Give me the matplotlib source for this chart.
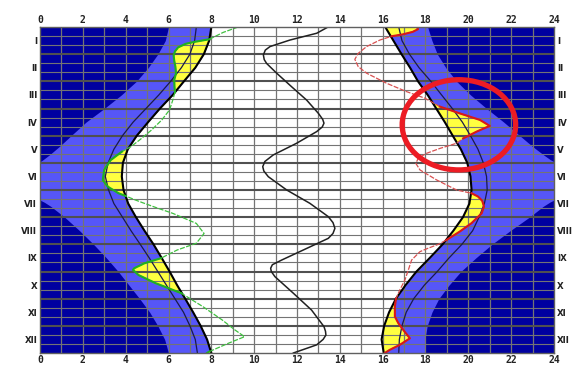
import numpy as np
import matplotlib
matplotlib.use('Agg')
import matplotlib.pyplot as plt
from matplotlib.patches import Ellipse
from matplotlib.font_manager import FontProperties

# ---------------- data ----------------
months = ['I', 'II', 'III', 'IV', 'V', 'VI', 'VII', 'VIII', 'IX', 'X', 'XI', 'XII']
hour_ticks = [0, 2, 4, 6, 8, 10, 12, 14, 16, 18, 20, 22, 24]

# month position (0 = 1 Jan, 12 = 31 Dec)
m_grid = [0, 0.5, 1, 1.5, 2, 2.5, 3, 3.5, 4, 4.5, 5, 5.5, 6, 6.5, 7, 7.5, 8, 8.5,
          9, 9.5, 10, 10.5, 11, 11.5, 12]
sunrise = [8.0, 7.9, 7.65, 7.25, 6.72, 6.2, 5.6, 5.05, 4.52, 4.1, 3.87, 3.82, 3.9,
           4.12, 4.48, 4.88, 5.3, 5.68, 6.05, 6.4, 6.78, 7.15, 7.5, 7.8, 8.0]
sunset = [16.12, 16.5, 16.88, 17.28, 17.65, 18.1, 18.5, 18.9, 19.27, 19.65, 19.95,
          20.1, 20.15, 20.05, 19.75, 19.3, 18.8, 18.2, 17.58, 17.07, 16.62, 16.3,
          16.07, 15.95, 16.05]
civil_am = [7.3, 7.22, 7.0, 6.6, 6.1, 5.55, 4.95, 4.35, 3.85, 3.45, 3.18, 3.05, 3.2,
            3.45, 3.85, 4.25, 4.68, 5.1, 5.5, 5.9, 6.3, 6.7, 7.0, 7.25, 7.35]
civil_pm = [16.75, 16.9, 17.25, 17.7, 18.25, 18.75, 19.25, 19.72, 20.1, 20.45, 20.7,
            20.85, 20.88, 20.75, 20.5, 20.2, 19.7, 19.1, 18.55, 17.95, 17.45, 17.1,
            16.9, 16.78, 16.75]

night_top_m = [0, 0.5, 1, 1.5, 2, 2.5, 3, 3.5, 4, 4.4, 4.7, 4.88, 4.96]
night_am_top = [6.0, 5.85, 5.5, 5.05, 4.5, 3.8, 3.0, 2.15, 1.45, 0.9, 0.45, 0.15, 0.0]
night_pm_top = [18.1, 18.3, 18.55, 18.95, 19.45, 20.1, 20.85, 21.65, 22.4, 23.0,
                23.5, 23.82, 24.0]
night_bot_m = [6.37, 6.45, 6.6, 7, 7.5, 8, 8.5, 9, 9.5, 10, 10.5, 11, 11.5, 12]
night_am_bot = [0.0, 0.2, 0.5, 1.15, 1.85, 2.5, 3.1, 3.65, 4.15, 4.65, 5.12, 5.5,
                5.82, 6.0]
night_pm_bot = [24.0, 23.8, 23.5, 22.85, 21.95, 21.1, 20.35, 19.65, 19.1, 18.62,
                18.3, 18.08, 17.97, 17.95]

green_m = [0.0, 0.2, 0.45, 0.55, 0.62, 0.75, 0.9, 1.05, 1.25, 1.45, 1.7, 1.95, 2.2,
           2.4, 2.69, 3.05, 3.42, 3.79, 4.16, 4.4, 4.59, 4.9, 5.26, 5.63, 5.88, 6.12,
           6.22, 6.37, 6.47, 6.67, 6.86, 7.23, 7.6, 7.96, 8.21, 8.51, 8.7, 8.88, 8.94,
           9.13, 9.43, 9.8, 10.29, 10.78, 11.15, 11.4, 11.64, 11.95, 12.0]
green_h = [9.25, 8.55, 7.91, 7.2, 6.8, 6.45, 6.3, 6.24, 6.27, 6.32, 6.35, 6.27, 6.28,
           6.3, 6.2, 6.05, 5.69, 5.21, 4.65, 4.25, 3.82, 3.3, 3.0, 2.93, 3.17, 3.67,
           4.0, 4.46, 4.8, 5.5, 6.2, 7.3, 7.66, 7.3, 6.4, 5.65, 4.87, 4.4, 4.34, 4.6,
           5.4, 6.6, 7.6, 8.5, 9.1, 9.55, 8.8, 7.9, 7.8]

red_m = [0.0, 0.08, 0.18, 0.27, 0.34, 0.48, 0.72, 0.97, 1.19, 1.46, 1.7, 2.07, 2.38,
         2.62, 2.72, 2.93, 3.18, 3.42, 3.64, 3.85, 4.1, 4.28, 4.47, 4.65, 4.83, 5.02,
         5.26, 5.63, 6.0, 6.12, 6.24, 6.4, 6.61, 6.86, 7.22, 7.53, 7.84, 8.0, 8.15,
         8.27, 8.58, 8.94, 9.31, 9.68, 10.0, 10.3, 10.66, 10.9, 11.15, 11.46, 11.7,
         11.88, 12.0]
red_h = [17.6, 17.65, 17.4, 16.95, 16.42, 15.87, 15.25, 14.86, 14.7, 14.86, 15.25,
         16.18, 17.12, 17.97, 18.2, 18.67, 19.6, 20.54, 21.0, 20.39, 19.76, 19.45,
         18.67, 18.05, 17.66, 17.55, 17.74, 18.52, 19.45, 20.15, 20.45, 20.65, 20.73,
         20.62, 20.15, 19.6, 18.98, 18.6, 18.1, 17.74, 17.35, 17.2, 17.04, 16.8,
         16.62, 16.57, 16.57, 16.73, 16.96, 17.27, 16.8, 16.34, 16.1]

mid_m = [0.0, 0.23, 0.48, 0.72, 0.85, 1.03, 1.2, 1.34, 1.7, 2.2, 2.69, 3.18, 3.4,
         3.54, 3.68, 3.85, 4.28, 4.71, 4.95, 5.14, 5.3, 5.51, 6.0, 6.49, 6.98, 7.2,
         7.41, 7.6, 7.78, 8.21, 8.58, 8.75, 8.88, 9.0, 9.19, 9.8, 10.42, 11.03,
         11.2, 11.34, 11.5, 11.7, 12.0]
mid_h = [13.45, 12.92, 11.67, 10.74, 10.52, 10.43, 10.47, 10.58, 11.05, 11.75, 12.45,
         13.0, 13.2, 13.26, 13.18, 12.92, 11.98, 10.89, 10.5, 10.4, 10.45, 10.66,
         11.52, 12.6, 13.46, 13.68, 13.77, 13.68, 13.46, 12.29, 11.28, 10.85, 10.77,
         10.8, 10.97, 11.83, 12.68, 13.26, 13.33, 13.35, 13.22, 12.92, 11.83]

# ---------------- style ----------------
NAVY = '#0000a0'
BLUE = '#5656f8'
YELLOW = '#ffff40'
GREEN = '#20b020'
RED = '#d81818'
GRID = '#747474'

fig = plt.figure(figsize=(5.73, 3.65), dpi=100)
ax = fig.add_axes([40 / 573, 12 / 365, 514 / 573, 326 / 365])
ax.set_facecolor('white')

mg = np.array(m_grid)
# twilight band
ax.fill_betweenx(mg, 0, sunrise, color=BLUE, lw=0, zorder=1)
ax.fill_betweenx(mg, sunset, 24, color=BLUE, lw=0, zorder=1)
# night
ax.fill_betweenx(night_top_m, 0, night_am_top, color=NAVY, lw=0, zorder=1.1)
ax.fill_betweenx(night_bot_m, 0, night_am_bot, color=NAVY, lw=0, zorder=1.1)
ax.fill_betweenx(night_top_m, night_pm_top, 24, color=NAVY, lw=0, zorder=1.1)
ax.fill_betweenx(night_bot_m, night_pm_bot, 24, color=NAVY, lw=0, zorder=1.1)

# yellow areas
gm = np.array(green_m); gh = np.array(green_h)
sr_g = np.interp(gm, mg, sunrise)
ax.fill_betweenx(gm, gh, sr_g, where=gh <= sr_g, interpolate=True,
                 color=YELLOW, lw=0, zorder=1.2)
rm = np.array(red_m); rh = np.array(red_h)
ss_r = np.interp(rm, mg, sunset)
ax.fill_betweenx(rm, ss_r, rh, where=rh >= ss_r, interpolate=True,
                 color=YELLOW, lw=0, zorder=1.2)

# grid
ax.vlines(range(1, 24), 0, 12, color=GRID, lw=0.9, zorder=2)
for k in range(1, 36):
    if k % 3 == 0:
        ax.hlines(k / 3, 0, 24, color='#505050', lw=1.5, zorder=2.1)
    else:
        ax.hlines(k / 3, 0, 24, color=GRID, lw=0.8, zorder=2)

# curves
ax.plot(civil_am, mg, color='#1a1a4a', lw=0.9, zorder=3)
ax.plot(civil_pm, mg, color='#1a1a4a', lw=0.9, zorder=3)
ax.plot(sunrise, mg, color='black', lw=1.5, zorder=3.2)
ax.plot(sunset, mg, color='black', lw=1.5, zorder=3.2)
ax.plot(mid_h, mid_m, color='#202020', lw=1.1, zorder=3)

ax.plot(gh, gm, color='#40c040', lw=0.9, ls=(0, (4, 1.2)), zorder=3.3)
ax.plot(np.ma.masked_where(gh > sr_g + 0.02, gh), gm, color=GREEN, lw=1.5, zorder=3.4)
ax.plot(rh, rm, color='#d85050', lw=0.9, ls=(0, (4, 1.2)), zorder=3.3)
ax.plot(np.ma.masked_where(rh < ss_r - 0.02, rh), rm, color=RED, lw=1.5, zorder=3.4)

# red highlight ring
ax.add_patch(Ellipse((19.56, 3.6), width=5.3, height=3.32, fill=False,
                     edgecolor='#ec1c24', lw=3.8, zorder=6, clip_on=False))

ax.set_xlim(0, 24)
ax.set_ylim(12, 0)
ax.set_xticks(hour_ticks)
ax.set_xticklabels([str(h) for h in hour_ticks])
ax.set_yticks([i + 0.5 for i in range(12)])
ax.set_yticklabels(months)
ax.tick_params(axis='x', top=True, labeltop=True, bottom=True, labelbottom=True,
               length=0, pad=1.2, colors='#222222')
ax.tick_params(axis='y', left=True, labelleft=True, right=True, labelright=True,
               length=0, pad=2, colors='#222222')

xfont = FontProperties(family='DejaVu Sans Mono', weight='bold', size=7)
yfont = FontProperties(family='DejaVu Sans', weight='bold', size=6.2)
for t in ax.xaxis.get_major_ticks():
    t.label1.set_fontproperties(xfont)
    t.label2.set_fontproperties(xfont)
for t in ax.yaxis.get_major_ticks():
    t.label1.set_fontproperties(yfont)
    t.label2.set_fontproperties(yfont)

for s in ax.spines.values():
    s.set_color('#606060')
    s.set_linewidth(1.0)
    s.set_zorder(4)

fig.savefig('out.png', dpi=100, facecolor='white')
